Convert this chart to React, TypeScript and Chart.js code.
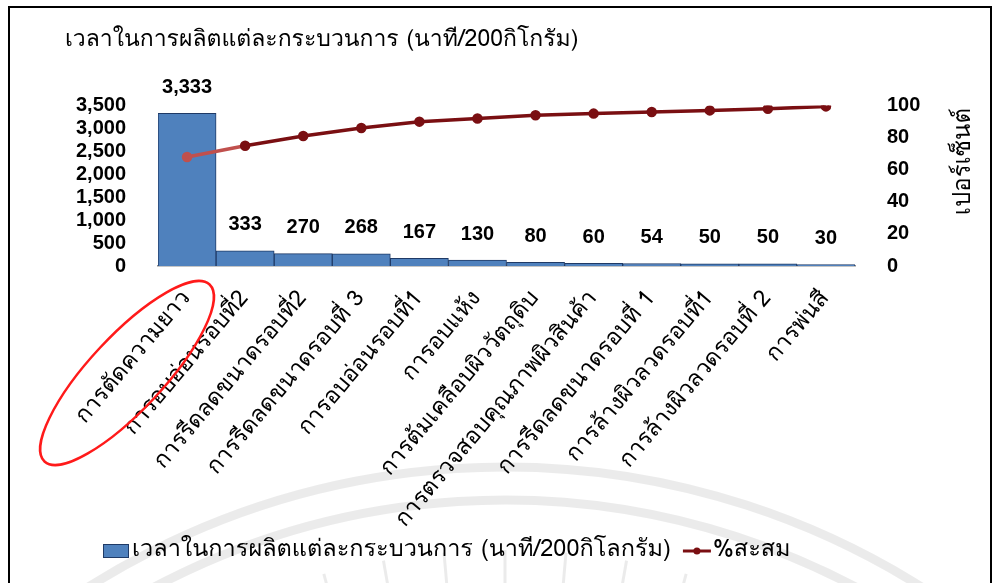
import React, { useEffect, useRef } from "react";
import { Chart, registerables } from "chart.js";

Chart.register(...registerables);

const chartTitle = "เวลาในการผลิตแต่ละกระบวนการ (นาที/200กิโกรัม)";
const barSeriesLabel = "เวลาในการผลิตแต่ละกระบวนการ (นาที/200กิโลกรัม)";
const lineSeriesLabel = "%สะสม";
const rightAxisTitle = "เปอร์เซ็นต์";

const categories = [
  "การตัดความยาว",
  "การอบอ่อนรอบที่2",
  "การรีดลดขนาดรอบที่2",
  "การรีดลดขนาดรอบที่ 3",
  "การอบอ่อนรอบที่1",
  "การอบแห้ง",
  "การต้มเคลือบผิววัตถุดิบ",
  "การตรวจสอบคุณภาพผิวสินค้า",
  "การรีดลดขนาดรอบที่ 1",
  "การล้างผิวลวดรอบที่1",
  "การล้างผิวลวดรอบที่ 2",
  "การพ่นสี",
];

const timeValues = [3333, 333, 270, 268, 167, 130, 80, 60, 54, 50, 50, 30];
const cumulativePercent = [68, 75, 81, 86, 90, 92, 94, 95, 96, 97, 98, 99.5];

const leftTickValues = [0, 500, 1000, 1500, 2000, 2500, 3000, 3500];
const rightTickValues = [0, 20, 40, 60, 80, 100];

const THAI = 'Waree, Tahoma, Loma, Garuda, "Noto Sans Thai Looped", "Noto Serif Thai", "Noto Sans Thai", "Noto Sans", sans-serif';
const NUM = '"Liberation Sans", Arial, sans-serif';

const BAR_FILL = "#4F81BD";
const BAR_EDGE = "#1f3a66";
const LINE_DARK = "#7a0f12";
const LINE_LIGHT = "#c0504d";

const backgroundPlugin = {
  id: "bgWatermark",
  beforeDraw(chart: any) {
    const { ctx, width, height } = chart;
    ctx.save();
    ctx.fillStyle = "#ffffff";
    ctx.fillRect(0, 0, width, height);
    const cx = 505;
    const cy = 1250;
    ctx.strokeStyle = "rgba(0,0,0,0.08)";
    ctx.lineWidth = 9;
    ctx.beginPath();
    ctx.arc(cx, cy, 783, Math.PI * 1.1, Math.PI * 1.9);
    ctx.stroke();
    ctx.beginPath();
    ctx.arc(cx, cy, 750, Math.PI * 1.1, Math.PI * 1.9);
    ctx.stroke();
    ctx.lineWidth = 3;
    for (let a = -150; a <= -30; a += 5) {
      const r = (a * Math.PI) / 180;
      ctx.beginPath();
      ctx.moveTo(cx + Math.cos(r) * 640, cy + Math.sin(r) * 640);
      ctx.lineTo(cx + Math.cos(r) * 700, cy + Math.sin(r) * 700);
      ctx.stroke();
    }
    ctx.restore();
  },
};

const valueLabelPlugin = {
  id: "valueLabels",
  afterDatasetsDraw(chart: any) {
    const { ctx } = chart;
    const meta = chart.getDatasetMeta(0);
    const data = chart.data.datasets[0].data as number[];
    ctx.save();
    ctx.font = `bold 20px ${NUM}`;
    ctx.fillStyle = "#000";
    ctx.textAlign = "center";
    ctx.textBaseline = "middle";
    meta.data.forEach((el: any, i: number) => {
      ctx.fillText(data[i].toLocaleString("en-US"), el.x, el.y - 26);
    });
    ctx.restore();
  },
};

const ellipsePlugin = {
  id: "highlightEllipse",
  afterDraw(chart: any) {
    const { ctx } = chart;
    const xs = chart.scales.x;
    const cx = xs.getPixelForValue(0) - 60;
    const cy = chart.chartArea.bottom + 107;
    ctx.save();
    ctx.strokeStyle = "#ff1a1a";
    ctx.lineWidth = 2.5;
    ctx.beginPath();
    ctx.ellipse(cx, cy, 121, 37, (-47 * Math.PI) / 180, 0, Math.PI * 2);
    ctx.stroke();
    ctx.restore();
  },
};

const rightTitlePlugin = {
  id: "rightAxisTitle",
  afterDraw(chart: any) {
    const { ctx } = chart;
    const ys = chart.scales.y1;
    ctx.save();
    ctx.translate(ys.right - 18, chart.chartArea.top + 56);
    ctx.rotate(-Math.PI / 2);
    ctx.font = `24px ${THAI}`;
    ctx.fillStyle = "#000";
    ctx.textAlign = "center";
    ctx.textBaseline = "middle";
    ctx.fillText(rightAxisTitle, 0, 0);
    ctx.restore();
  },
};

const legendPlugin = {
  id: "customLegend",
  afterDraw(chart: any) {
    const { ctx } = chart;
    const ds = chart.data.datasets;
    const cy = 551;
    let x = 103;
    ctx.save();
    ctx.font = `23.5px ${THAI}`;
    ctx.textBaseline = "middle";
    ctx.textAlign = "left";
    ctx.fillStyle = BAR_FILL;
    ctx.fillRect(x, cy - 7, 26, 14);
    ctx.strokeStyle = BAR_EDGE;
    ctx.lineWidth = 1;
    ctx.strokeRect(x + 0.5, cy - 6.5, 25, 13);
    x += 29;
    ctx.fillStyle = "#000";
    ctx.fillText(ds[0].label, x, cy);
    x += ctx.measureText(ds[0].label).width + 12;
    ctx.strokeStyle = LINE_DARK;
    ctx.lineWidth = 3;
    ctx.beginPath();
    ctx.moveTo(x, cy);
    ctx.lineTo(x + 28, cy);
    ctx.stroke();
    ctx.fillStyle = LINE_DARK;
    ctx.beginPath();
    ctx.arc(x + 14, cy, 3.5, 0, Math.PI * 2);
    ctx.fill();
    x += 30;
    ctx.fillStyle = "#000";
    ctx.fillText(ds[1].label, x, cy);
    ctx.restore();
  },
};

export default function App() {
  const canvasRef = useRef<HTMLCanvasElement | null>(null);

  useEffect(() => {
    if (!canvasRef.current) return;
    const chart = new Chart(canvasRef.current, {
      data: {
        labels: categories,
        datasets: [
          {
            type: "bar",
            label: barSeriesLabel,
            data: timeValues,
            backgroundColor: BAR_FILL,
            borderColor: BAR_EDGE,
            borderWidth: 1,
            barPercentage: 1,
            categoryPercentage: 1,
            yAxisID: "y",
            order: 2,
          },
          {
            type: "line",
            label: lineSeriesLabel,
            data: cumulativePercent,
            borderColor: LINE_DARK,
            borderWidth: 3.5,
            pointRadius: 3.5,
            pointBackgroundColor: (c: any) => (c.dataIndex === 0 ? LINE_LIGHT : LINE_DARK),
            pointBorderColor: (c: any) => (c.dataIndex === 0 ? LINE_LIGHT : LINE_DARK),
            segment: {
              borderColor: (c: any) => (c.p0DataIndex === 0 ? LINE_LIGHT : LINE_DARK),
            },
            tension: 0,
            yAxisID: "y1",
            order: 1,
          } as any,
        ],
      },
      options: {
        animation: false,
        responsive: false,
        devicePixelRatio: 1,
        layout: { padding: { left: 65, right: 15, top: 0, bottom: 0 } },
        plugins: {
          legend: { display: false },
          tooltip: { enabled: false },
          title: {
            display: true,
            text: chartTitle,
            align: "start",
            color: "#000",
            font: { family: THAI, size: 23, weight: "normal" },
            lineHeight: 1.2,
            padding: { top: 27, bottom: 51 },
          },
        },
        scales: {
          x: {
            type: "category",
            grid: { display: false },
            border: { display: true, color: "#8c8c8c", width: 1.5 },
            ticks: {
              autoSkip: false,
              minRotation: 50,
              maxRotation: 50,
              color: "#000",
              padding: 12,
              font: { family: THAI, size: 23 },
            },
            afterFit: (s: any) => {
              s.height = 317;
            },
          },
          y: {
            position: "left",
            min: 0,
            max: 3500,
            grid: { display: false },
            border: { display: false },
            afterBuildTicks: (s: any) => {
              s.ticks = leftTickValues.map((v) => ({ value: v }));
            },
            ticks: {
              autoSkip: false,
              color: "#000",
              padding: 24,
              font: { family: NUM, size: 20, weight: "bold" },
              callback: (v: any) => Number(v).toLocaleString("en-US"),
            },
            afterFit: (s: any) => {
              s.width = 93;
            },
          },
          y1: {
            position: "right",
            min: 0,
            max: 100,
            grid: { display: false },
            border: { display: false },
            afterBuildTicks: (s: any) => {
              s.ticks = rightTickValues.map((v) => ({ value: v }));
            },
            ticks: {
              autoSkip: false,
              color: "#000",
              padding: 24,
              font: { family: NUM, size: 20, weight: "bold" },
            },
            afterFit: (s: any) => {
              s.width = 128;
            },
          },
        },
      } as any,
      plugins: [backgroundPlugin, valueLabelPlugin, ellipsePlugin, rightTitlePlugin, legendPlugin],
    });
    return () => chart.destroy();
  }, []);

  return (
    <div style={{ position: "fixed", left: 0, top: 0, width: 998, height: 583, overflow: "hidden", background: "#fff" }}>
      <canvas ref={canvasRef} width={998} height={583} style={{ position: "absolute", left: 0, top: 0, width: 998, height: 583 }} />
      <div
        style={{
          position: "absolute",
          left: 8,
          top: 6,
          width: 980,
          height: 600,
          border: "2px solid #000",
          pointerEvents: "none",
        }}
      />
    </div>
  );
}
